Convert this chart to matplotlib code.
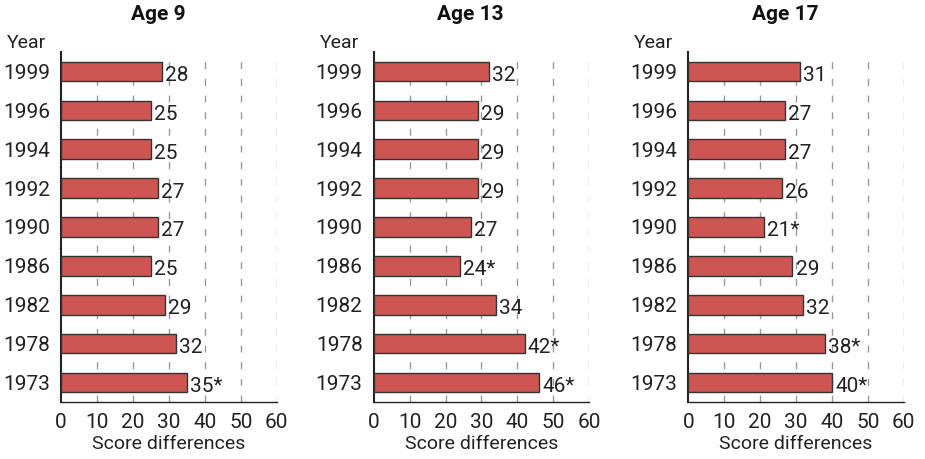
import matplotlib.pyplot as plt
import numpy as np

plt.rcParams['font.family'] = ['Roboto', 'DejaVu Sans']

years = ['1999', '1996', '1994', '1992', '1990', '1986', '1982', '1978', '1973']
ages = ['Age 9', 'Age 13', 'Age 17']
age9 = [28, 25, 25, 27, 27, 25, 29, 32, 35]
age13 = [32, 29, 29, 29, 27, 24, 34, 42, 46]
age17 = [31, 27, 27, 26, 21, 29, 32, 38, 40]
sig9 = ['', '', '', '', '', '', '', '', '*']
sig13 = ['', '', '', '', '', '*', '', '*', '*']
sig17 = ['', '', '', '', '*', '', '', '*', '*']
xticks = [0, 10, 20, 30, 40, 50, 60]

fig = plt.figure(figsize=(9.25, 4.59), dpi=100)
lefts = [0.066, 0.404, 0.744]

for left, title, vals, sig in zip(lefts, ages, [age9, age13, age17], [sig9, sig13, sig17]):
    ax = fig.add_axes([left, 0.124, 0.233, 0.763])
    y = np.arange(len(years))
    ax.barh(y, vals, height=0.5, color='#cd5652', edgecolor='#333333', linewidth=1.0, zorder=3)
    for yi, v, s in zip(y, vals, sig):
        ax.text(v + 0.9, yi + 0.05, '%d%s' % (v, s), va='center_baseline', ha='left',
                fontsize=15, color='#222222', zorder=4)
    ax.set_xlim(0, 60)
    ax.set_ylim(len(years) - 0.5, -0.5)
    ax.set_yticks(y)
    ax.set_yticklabels(years)
    ax.set_xticks(xticks)
    ax.tick_params(length=0, labelsize=15, colors='#222222')
    ax.tick_params(axis='x', pad=8)
    ax.tick_params(axis='y', pad=8)
    for xv in xticks[1:]:
        ln = ax.axvline(xv, color='#999999', linestyle=(0, (5, 7)), linewidth=1.0, zorder=1)
        ln.set_snap(True)
    ax.spines['top'].set_visible(False)
    ax.spines['right'].set_visible(False)
    ax.spines['left'].set_color('#222222')
    ax.spines['bottom'].set_color('#222222')
    ax.spines['left'].set_linewidth(1.5)
    ax.spines['bottom'].set_linewidth(1.0)
    ax.set_xlabel('Score differences', fontsize=14, color='#222222', labelpad=2)
    ax.text(0.45, 1.08, title, transform=ax.transAxes, ha='center', va='bottom',
            fontsize=15, fontweight='semibold', color='#111111')
    ax.text(-0.25, 1.0, 'Year', transform=ax.transAxes, ha='left', va='bottom',
            fontsize=14, color='#222222')

plt.savefig('out.png', dpi=100)
